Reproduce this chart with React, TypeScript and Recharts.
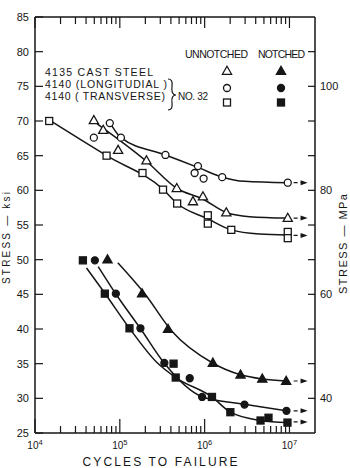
import React from 'react';
import { ComposedChart, XAxis, YAxis, Scatter, Line } from 'recharts';

const INK = '#161616';
const FONT = '"Liberation Sans", Arial, sans-serif';
const PLOT_H = 416;

// measured points: cycles to failure / stress (ksi)
// unnotched (open symbols)
const castUnX = [4.94e4, 6.37e4, 9.55e4, 2.06e5, 4.69e5, 7.28e5, 9.55e5, 1.8e6, 9.55e6];
const castUnY = [70.1, 68.7, 65.8, 64.3, 60.3, 58.4, 59.1, 56.8, 56.0];
const longUnX = [4.94e4, 7.62e4, 1.03e5, 3.45e5, 8.34e5, 7.62e5, 9.72e5, 1.61e6, 9.55e6];
const longUnY = [67.6, 69.7, 67.6, 65.1, 63.5, 62.5, 61.7, 61.9, 61.1];
const transUnX = [1.47e4, 6.98e4, 1.85e5, 3.23e5, 4.74e5, 1.09e6, 1.09e6, 2.06e6, 9.55e6, 9.55e6];
const transUnY = [70.0, 65.0, 62.5, 60.1, 58.1, 56.4, 55.2, 54.3, 54.0, 53.1];

// notched (filled symbols)
const castNX = [7.16e4, 1.83e5, 3.7e5, 1.25e6, 2.65e6, 4.78e6, 9.14e6];
const castNY = [50.0, 45.1, 40.0, 35.1, 33.4, 32.8, 32.5];
const longNX = [5.08e4, 8.98e4, 1.75e5, 3.35e5, 6.67e5, 9.34e5, 2.95e6, 9.22e6];
const longNY = [49.9, 45.1, 40.1, 35.1, 32.9, 30.2, 29.1, 28.2];
const transNX = [3.67e4, 6.66e4, 1.3e5, 4.3e5, 4.56e5, 1.22e6, 2.01e6, 4.56e6, 5.66e6, 9.47e6];
const transNY = [49.9, 45.1, 40.1, 35.0, 33.0, 30.2, 28.0, 26.8, 27.2, 26.5];

// hand-faired curves
const castUnCurveX = [5.4e4, 2.06e5, 4.69e5, 9.47e5, 1.8e6, 3.38e6, 9.47e6];
const castUnCurveY = [69.6, 64.2, 60.3, 58.75, 56.8, 56.2, 56.0];
const longUnCurveX = [8.05e4, 1.03e5, 3.45e5, 8.73e5, 1.62e6, 2.95e6, 9.47e6];
const longUnCurveY = [69.3, 67.6, 65.1, 63.2, 61.9, 61.3, 61.1];
const transUnCurveX = [1.58e4, 6.98e4, 3.23e5, 4.74e5, 1.09e6, 2.06e6, 4.44e6, 9.47e6];
const transUnCurveY = [69.9, 65.0, 60.15, 58.1, 55.9, 54.3, 53.7, 53.55];
const castNCurveX = [9.47e4, 2.02e5, 4.09e5, 1.24e6, 2.65e6, 4.78e6, 9.14e6];
const castNCurveY = [49.55, 44.9, 39.7, 35.1, 33.4, 32.8, 32.5];
const longNCurveX = [5.56e4, 8.98e4, 1.75e5, 3.35e5, 9.34e5, 2.95e6, 9.22e6];
const longNCurveY = [49.0, 45.05, 40.07, 35.05, 30.23, 29.14, 28.2];
const transNCurveX = [4.05e4, 6.66e4, 1.3e5, 2.72e5, 4.56e5, 1.22e6, 2.01e6, 4.56e6, 9.47e6];
const transNCurveY = [48.8, 45.15, 40.1, 35.2, 33.0, 30.2, 28.0, 26.8, 26.5];

// run-out arrows (did not fail)
const runoutX = [1.12e7, 1.55e7];
const runoutY = [61.1, 56.0, 53.5, 32.5, 28.2, 26.6];

// axes
const decades = [1e4, 1e5, 1e6, 1e7];
const xTicks = decades.flatMap((d) => (d === 1e7 ? [d] : [1, 2, 3, 4, 5, 6, 7, 8, 9].map((m) => m * d)));
const ksiTicks = [25, 30, 35, 40, 45, 50, 55, 60, 65, 70, 75, 80, 85];
const rightTicks = [30, 35, 40, 45, 50, 55, 60, 65, 70, 75, 80];

const pts = (xs: number[], ys: number[]) => xs.map((x, i) => ({ x, y: ys[i] }));

const Tri = ({ cx, cy, filled }: any) => (
  <polygon
    points={`${cx},${cy - 4.8} ${cx + 4.6},${cy + 3.3} ${cx - 4.6},${cy + 3.3}`}
    fill={filled ? INK : '#fff'}
    stroke={INK}
    strokeWidth={1.3}
  />
);
const Circ = ({ cx, cy, filled }: any) => (
  <circle cx={cx} cy={cy} r={3.5} fill={filled ? INK : '#fff'} stroke={INK} strokeWidth={1.3} />
);
const Sq = ({ cx, cy, filled }: any) => (
  <rect x={cx - 3.5} y={cy - 3.5} width={7} height={7} fill={filled ? INK : '#fff'} stroke={INK} strokeWidth={1.3} />
);

const isDecade = (v: number) => {
  const e = Math.log10(v);
  return Math.abs(e - Math.round(e)) < 1e-6;
};

// bottom ticks point up into the plot; the same marks are mirrored on the top frame
const BottomTick = ({ x, y, payload }: any) => {
  const major = isDecade(payload.value);
  const top = y - PLOT_H;
  return (
    <g>
      <line x1={x} x2={x} y1={y} y2={y - (major ? 14 : 7)} stroke={INK} strokeWidth={1.2} />
      <line x1={x} x2={x} y1={top} y2={top + (major ? 11 : 7)} stroke={INK} strokeWidth={1.2} />
      {major && (
        <text x={x} y={y + 16} textAnchor="middle" fontSize={10} fill={INK} fontFamily={FONT}>
          10
          <tspan dy={-4} fontSize={7.5}>
            {Math.round(Math.log10(payload.value))}
          </tspan>
        </text>
      )}
    </g>
  );
};

const LeftTick = ({ x, y, payload }: any) => (
  <g>
    <line x1={x} x2={x + 8} y1={y} y2={y} stroke={INK} strokeWidth={1.2} />
    <text x={x - 6} y={y} dy="0.35em" textAnchor="end" fontSize={11} fill={INK} fontFamily={FONT}>
      {payload.value}
    </text>
  </g>
);

const RightTick = ({ x, y, payload }: any) => {
  const mpa = Math.round((payload.value * 4) / 3);
  const show = Math.abs((payload.value * 4) / 3 - mpa) < 1e-6 && mpa % 20 === 0;
  return (
    <g>
      <line x1={x - 7} x2={x} y1={y} y2={y} stroke={INK} strokeWidth={1.2} />
      {show && (
        <text x={x + 5} y={y} dy="0.35em" textAnchor="start" fontSize={11} fill={INK} fontFamily={FONT}>
          {mpa}
        </text>
      )}
    </g>
  );
};

const ArrowDot = (p: any) => {
  if (p.index !== 1) return <g key={p.key} />;
  const { cx, cy } = p;
  return <polygon key={p.key} points={`${cx + 2},${cy} ${cx - 5},${cy - 2.5} ${cx - 5},${cy + 2.5}`} fill={INK} />;
};

const curves = [
  pts(castUnCurveX, castUnCurveY),
  pts(longUnCurveX, longUnCurveY),
  pts(transUnCurveX, transUnCurveY),
  pts(castNCurveX, castNCurveY),
  pts(longNCurveX, longNCurveY),
  pts(transNCurveX, transNCurveY),
];

const series = [
  { data: pts(castUnX, castUnY), Shape: Tri, filled: false },
  { data: pts(longUnX, longUnY), Shape: Circ, filled: false },
  { data: pts(transUnX, transUnY), Shape: Sq, filled: false },
  { data: pts(castNX, castNY), Shape: Tri, filled: true },
  { data: pts(longNX, longNY), Shape: Circ, filled: true },
  { data: pts(transNX, transNY), Shape: Sq, filled: true },
];

export default function App() {
  return (
    <div style={{ position: 'absolute', left: 0, top: 0, width: 350, height: 468, background: '#fff' }}>
      <ComposedChart width={350} height={468} margin={{ top: 16, right: 34, bottom: 34, left: 34 }}>
        <XAxis
          dataKey="x"
          type="number"
          scale="log"
          domain={[1e4, 2e7]}
          allowDataOverflow
          ticks={xTicks}
          interval={0}
          height={1}
          tickSize={0}
          tickMargin={0}
          tick={<BottomTick />}
          axisLine={{ stroke: INK, strokeWidth: 1.5 }}
          tickLine={false}
        />
        <XAxis
          xAxisId="top"
          orientation="top"
          dataKey="x"
          type="number"
          scale="log"
          domain={[1e4, 2e7]}
          allowDataOverflow
          height={1}
          tick={false}
          axisLine={{ stroke: INK, strokeWidth: 1.5 }}
          tickLine={false}
        />
        <YAxis
          dataKey="y"
          type="number"
          domain={[25, 85]}
          allowDataOverflow
          ticks={ksiTicks}
          interval={0}
          width={1}
          tickSize={0}
          tickMargin={0}
          tick={<LeftTick />}
          axisLine={{ stroke: INK, strokeWidth: 1.5 }}
          tickLine={false}
        />
        <YAxis
          yAxisId="right"
          orientation="right"
          type="number"
          domain={[25, 85]}
          allowDataOverflow
          ticks={rightTicks}
          interval={0}
          width={1}
          tickSize={0}
          tickMargin={0}
          tick={<RightTick />}
          axisLine={{ stroke: INK, strokeWidth: 1.5 }}
          tickLine={false}
        />
        {curves.map((c, i) => (
          <Line
            key={'c' + i}
            data={c}
            dataKey="y"
            type="monotone"
            stroke={INK}
            strokeWidth={1.5}
            dot={false}
            activeDot={false}
            isAnimationActive={false}
          />
        ))}
        {runoutY.map((y, i) => (
          <Line
            key={'r' + i}
            data={runoutX.map((x) => ({ x, y }))}
            dataKey="y"
            stroke={INK}
            strokeWidth={1.2}
            strokeDasharray="4 3"
            dot={ArrowDot}
            activeDot={false}
            isAnimationActive={false}
          />
        ))}
        {series.map((s, i) => (
          <Scatter
            key={'s' + i}
            data={s.data}
            dataKey="y"
            isAnimationActive={false}
            shape={(p: any) => <s.Shape cx={p.cx} cy={p.cy} filled={s.filled} />}
          />
        ))}
      </ComposedChart>
      <svg
        width={350}
        height={468}
        style={{ position: 'absolute', left: 0, top: 0, pointerEvents: 'none' }}
        fontFamily={FONT}
        fill={INK}
      >
        <text x={45} y={76} fontSize={10.5} textLength={108} lengthAdjust="spacing">4135 CAST STEEL</text>
        <text x={45} y={88} fontSize={10.5} textLength={122} lengthAdjust="spacing">4140 (LONGITUDIAL )</text>
        <text x={45} y={100} fontSize={10.5} textLength={120} lengthAdjust="spacing">4140 ( TRANSVERSE)</text>
        <path d="M168,79 Q173,79 172,86 Q171,95 176,95 Q171,95 172,103 Q173,110 168,110" fill="none" stroke={INK} strokeWidth={1.2} />
        <text x={178} y={100} fontSize={10} textLength={30} lengthAdjust="spacing">NO. 32</text>
        <text x={185} y={58} fontSize={10.5} textLength={63} lengthAdjust="spacing">UNNOTCHED</text>
        <text x={258} y={58} fontSize={10.5} textLength={47} lengthAdjust="spacing">NOTCHED</text>
        <Tri cx={227} cy={71} filled={false} />
        <Circ cx={227} cy={88} filled={false} />
        <Sq cx={227} cy={102.5} filled={false} />
        <Tri cx={281} cy={71} filled />
        <Circ cx={281} cy={88} filled />
        <Sq cx={281} cy={102.5} filled />
        <text x={160} y={466} fontSize={12} textAnchor="middle" textLength={155} lengthAdjust="spacing">
          CYCLES TO FAILURE
        </text>
        <text
          transform="translate(342.5,244) rotate(-90)"
          fontSize={11}
          textAnchor="middle"
          dominantBaseline="central"
          textLength={100}
          lengthAdjust="spacing"
        >
          STRESS — MPa
        </text>
        <text
          transform="translate(6,238) rotate(-90)"
          fontSize={10}
          textAnchor="middle"
          dominantBaseline="central"
          textLength={92}
          lengthAdjust="spacing"
        >
          STRESS — ksi
        </text>
      </svg>
    </div>
  );
}
